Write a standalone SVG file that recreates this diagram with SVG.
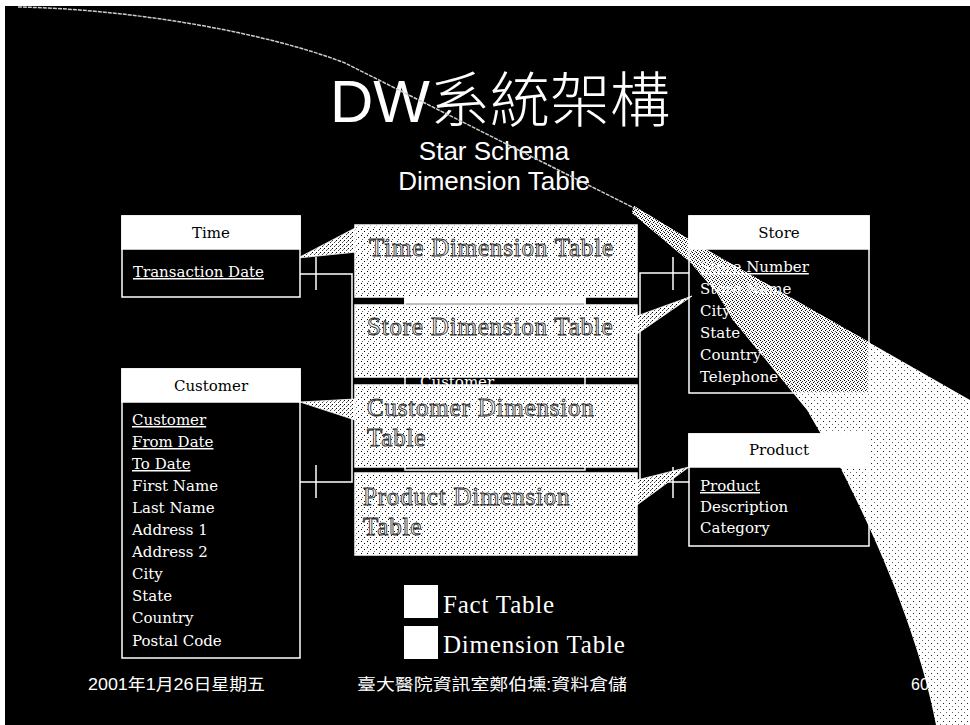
<svg xmlns="http://www.w3.org/2000/svg" width="970" height="725" viewBox="0 0 970 725">
<defs>
<pattern id="dith" width="4" height="4" patternUnits="userSpaceOnUse">
<rect width="4" height="4" fill="#fff"/>
<rect x="0" y="0" width="1" height="1" fill="#000"/>
<rect x="2" y="2" width="1" height="1" fill="#444"/>
<rect x="3" y="1" width="1" height="1" fill="#888"/>
</pattern>
<pattern id="dith2" width="6" height="6" patternUnits="userSpaceOnUse">
<rect width="6" height="6" fill="#fff"/>
<rect x="1" y="1" width="1" height="1" fill="#000"/>
<rect x="4" y="3" width="1" height="1" fill="#000"/>
<rect x="2" y="5" width="1" height="1" fill="#666"/>
</pattern>
<pattern id="beamp" width="4" height="4" patternUnits="userSpaceOnUse">
<rect width="4" height="4" fill="#fff"/>
<rect x="0" y="0" width="1" height="1" fill="#000"/>
<rect x="2" y="1" width="1" height="1" fill="#333"/>
<rect x="1" y="2" width="1" height="1" fill="#000"/>
<rect x="3" y="3" width="1" height="1" fill="#555"/>
</pattern>
<pattern id="beaml" width="6" height="6" patternUnits="userSpaceOnUse">
<rect width="6" height="6" fill="#fff"/>
<rect x="1" y="1" width="1" height="1" fill="#222"/>
<rect x="4" y="4" width="1" height="1" fill="#666"/>
</pattern>
<style>
.ent{fill:#000;stroke:#fff;stroke-width:1.5}
.see{fill:none;stroke:#fff;stroke-width:1.5}
.hdr{fill:#fff;stroke:#fff;stroke-width:1.5}
.ht{font-family:"DejaVu Serif",serif;font-size:15px;fill:#000;text-anchor:middle}
.it{font-family:"DejaVu Serif",serif;font-size:15px;fill:#fff}
.key{text-decoration:underline}
.dim{fill:url(#dith2);stroke:#fff;stroke-width:1.5}
.dt{font-family:"Liberation Serif",serif;font-size:25px;letter-spacing:0.8px;fill:#fff;stroke:#333;stroke-width:0.9}
.ln{fill:none;stroke:#fff;stroke-width:1.5}
.wedge{fill:url(#dith);stroke:#fff;stroke-width:0.8}
.leg{font-family:"Liberation Serif",serif;font-size:25px;letter-spacing:0.8px;fill:#fff}
.foot{font-family:"Liberation Sans","Noto Sans CJK TC",sans-serif;font-size:16px;fill:#fff}
.ttl{font-family:"Liberation Sans","Noto Sans CJK TC",sans-serif;fill:#fff}
</style>
</defs>
<rect x="0" y="0" width="970" height="725" fill="#fff"/>
<rect x="5" y="6" width="965" height="719" fill="#000"/>

<g id="beam">
<path d="M634 206 L700 246 L970 400 L970 725 L936 725 C920 640 880 545 840 467 L807 410 L733 320 L717 293 L690 262 L632 213 Z" fill="url(#beaml)"/>
<path d="M634 206 L700 246 L869 342 L869 393 L795 393 L733 320 L717 293 L690 262 L632 213 Z" fill="url(#beamp)"/>
</g>

<g id="title">
<text class="ttl" x="330" y="122" font-size="60" font-weight="300">DW系統架構</text>
<text class="ttl" x="494" y="160" font-size="26" text-anchor="middle">Star Schema</text>
<text class="ttl" x="494" y="190" font-size="26" text-anchor="middle">Dimension Table</text>
</g>

<g id="beam_edge">
<path d="M18 7 C130 9 265 32 345 63 L636 209" fill="none" stroke="#ccc" stroke-width="1.5" stroke-dasharray="4 1"/>
</g>

<g id="fact_table">
<rect class="ent" x="405" y="290" width="180" height="180"/>
<rect class="hdr" x="405" y="290" width="180" height="13"/>
<text class="it" x="420" y="387" font-size="13">Customer</text>
</g>

<g id="connectors">
<polyline class="ln" points="300,274 352,274 352,482 300,482"/>
<line class="ln" x1="316" y1="257" x2="316" y2="290"/>
<line class="ln" x1="316" y1="465" x2="316" y2="498"/>
<polyline class="ln" points="689,273 640,273 640,482 689,482"/>
<line class="ln" x1="673" y1="257" x2="673" y2="290"/>
<line class="ln" x1="673" y1="467" x2="673" y2="498"/>
<polygon class="wedge" points="298,258 357,227 357,252"/>
<polygon class="wedge" points="692,296 637,316 637,334"/>
<polygon class="wedge" points="300,402 355,399 355,420"/>
<polygon class="wedge" points="689,467 637,480 637,505"/>
</g>

<g id="time_dim">
<rect class="dim" x="355" y="225" width="282" height="72"/>
<text class="dt" x="369" y="256">Time Dimension Table</text>
</g>
<g id="store_dim">
<rect class="dim" x="355" y="305" width="282" height="72"/>
<text class="dt" x="367" y="335">Store Dimension Table</text>
</g>
<g id="customer_dim">
<rect class="dim" x="355" y="385" width="282" height="82"/>
<text class="dt" x="367" y="416">Customer Dimension</text>
<text class="dt" x="367" y="446">Table</text>
</g>
<g id="product_dim">
<rect class="dim" x="355" y="473" width="282" height="82"/>
<text class="dt" x="363" y="505">Product Dimension</text>
<text class="dt" x="363" y="535">Table</text>
</g>

<g id="time">
<rect class="ent" x="122" y="216" width="178" height="81"/>
<rect class="hdr" x="122" y="216" width="178" height="33"/>
<text class="ht" x="211" y="238">Time</text>
<text class="it key" x="133" y="277">Transaction Date</text>
</g>

<g id="customer">
<rect class="ent" x="122" y="369" width="178" height="289"/>
<rect class="hdr" x="122" y="369" width="178" height="33"/>
<text class="ht" x="211" y="391">Customer</text>
<text class="it key" x="132" y="425">Customer</text>
<text class="it key" x="132" y="447">From Date</text>
<text class="it key" x="132" y="469">To Date</text>
<text class="it" x="132" y="491">First Name</text>
<text class="it" x="132" y="513">Last Name</text>
<text class="it" x="132" y="535">Address 1</text>
<text class="it" x="132" y="557">Address 2</text>
<text class="it" x="132" y="579">City</text>
<text class="it" x="132" y="601">State</text>
<text class="it" x="132" y="623">Country</text>
<text class="it" x="132" y="646">Postal Code</text>
</g>

<g id="store">
<rect class="see" x="689" y="216" width="180" height="177"/>
<rect class="hdr" x="689" y="216" width="180" height="33"/>
<text class="ht" x="779" y="238">Store</text>
<text class="it key" x="700" y="272">Store Number</text>
<text class="it" x="700" y="294">Store Name</text>
<text class="it" x="700" y="316">City</text>
<text class="it" x="700" y="338">State</text>
<text class="it" x="700" y="360">Country</text>
<text class="it" x="700" y="382">Telephone</text>
</g>

<g id="product">
<rect class="see" x="689" y="434" width="180" height="112"/>
<rect class="hdr" x="689" y="434" width="180" height="33"/>
<text class="ht" x="779" y="455">Product</text>
<text class="it key" x="700" y="491">Product</text>
<text class="it" x="700" y="512">Description</text>
<text class="it" x="700" y="533">Category</text>
</g>

<g id="legend">
<rect x="404" y="585" width="34" height="33" fill="#fff"/>
<text class="leg" x="443" y="613">Fact Table</text>
<rect x="404" y="626" width="34" height="33" fill="#fff"/>
<text class="leg" x="443" y="653">Dimension Table</text>
</g>

<g id="footer">
<text class="foot" x="88" y="690" textLength="177" lengthAdjust="spacingAndGlyphs">2001年1月26日星期五</text>
<text class="foot" x="357" y="690" textLength="270" lengthAdjust="spacingAndGlyphs">臺大醫院資訊室鄭伯壎:資料倉儲</text>
<text class="foot" x="911" y="690">60</text>
</g>
</svg>
